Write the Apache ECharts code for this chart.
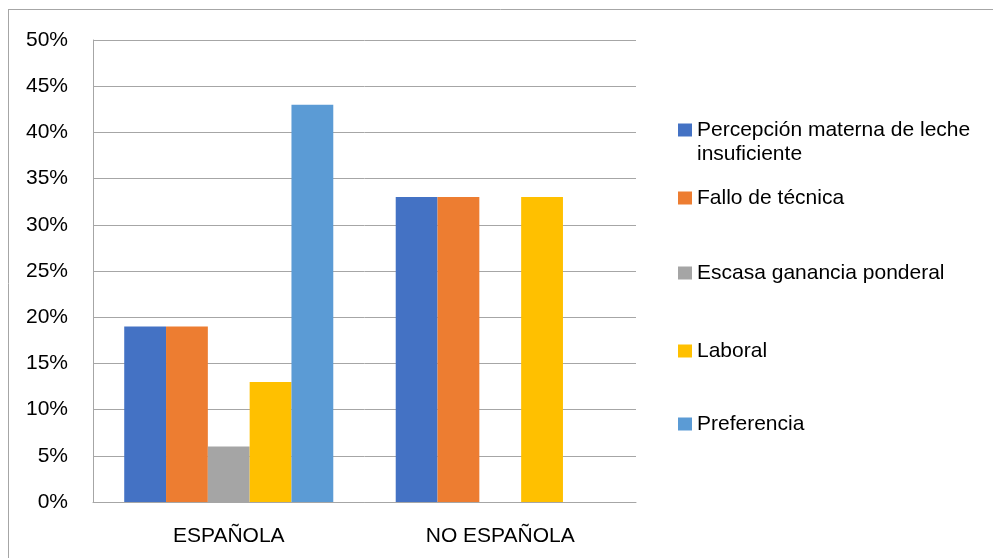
<!DOCTYPE html>
<html>
<head>
<meta charset="utf-8">
<script src="https://cdn.jsdelivr.net/npm/echarts@6/dist/echarts.min.js"></script>
<style>
  html, body { margin: 0; padding: 0; background: #fff; }
  #chart { width: 993px; height: 558px; }
</style>
</head>
<body>
<div id="chart"></div>
<script>
// Categories on the x axis
const categories = ['ESPAÑOLA', 'NO ESPAÑOLA'];

// Reasons (series names)
const seriesNames = [
  'Percepción materna de leche insuficiente',
  'Fallo de técnica',
  'Escasa ganancia ponderal',
  'Laboral',
  'Preferencia'
];

// Percentages per reason, one value per category
const percepcion = [19, 33];
const falloTecnica = [19, 33];
const escasaGanancia = [6, 0];
const laboral = [13, 33];
const preferencia = [43, 0];

// Y axis ticks
const yMin = 0;
const yMax = 50;
const yStep = 5;

const seriesValues = [percepcion, falloTecnica, escasaGanancia, laboral, preferencia];
const colors = ['#4472C4', '#ED7D31', '#A5A5A5', '#FFC000', '#5B9BD5'];

const FONT = 'Liberation Sans, Arial, sans-serif';
const GRID_COLOR = '#a6a6a6';

// Legend entries are stacked individually so that spacing follows the layout
const legendCenters = [130, 198, 273, 351, 424];
const legends = seriesNames.map((name, i) => ({
  data: [name],
  orient: 'vertical',
  left: 678,
  top: legendCenters[i] - 11,
  itemWidth: 14,
  itemHeight: 13,
  itemGap: 0,
  padding: 0,
  selectedMode: false,
  icon: 'rect',
  formatter: (n) => (n.startsWith('Percepción') ? 'Percepción materna de leche' : n),
  textStyle: { fontFamily: FONT, fontSize: 21, color: '#000', lineHeight: 22 }
}));

const chart = echarts.init(document.getElementById('chart'), null, { renderer: 'canvas' });

chart.setOption({
  backgroundColor: '#fff',
  animation: false,
  color: colors,
  grid: { left: 93, right: 357, top: 40, bottom: 56, containLabel: false },
  legend: legends,
  graphic: [
    // frame edges
    { type: 'line', shape: { x1: 8, y1: 9.5, x2: 993, y2: 9.5 }, style: { stroke: GRID_COLOR, lineWidth: 1 }, silent: true },
    { type: 'line', shape: { x1: 8.5, y1: 9, x2: 8.5, y2: 558 }, style: { stroke: GRID_COLOR, lineWidth: 1 }, silent: true },
    // wrapped continuation of the first legend entry
    { type: 'text', left: 697, top: 144, style: { text: 'insuficiente', font: '21px ' + FONT, fill: '#000' }, silent: true }
  ],
  xAxis: {
    type: 'category',
    data: categories,
    axisLine: { show: true, lineStyle: { color: GRID_COLOR, width: 1 } },
    axisTick: { show: false },
    axisLabel: { fontFamily: FONT, fontSize: 21, color: '#000', margin: 24 }
  },
  yAxis: {
    type: 'value',
    min: yMin,
    max: yMax,
    interval: yStep,
    axisLine: { show: true, lineStyle: { color: GRID_COLOR, width: 1 } },
    axisTick: { show: false },
    splitLine: { show: true, lineStyle: { color: GRID_COLOR, width: 1 } },
    axisLabel: { fontFamily: FONT, fontSize: 21, color: '#000', margin: 25, formatter: '{value}%' }
  },
  series: seriesNames.map((name, i) => ({
    name,
    type: 'bar',
    data: seriesValues[i],
    barGap: '0%',
    barCategoryGap: '23%',
    itemStyle: { color: colors[i] }
  }))
});
</script>
</body>
</html>
